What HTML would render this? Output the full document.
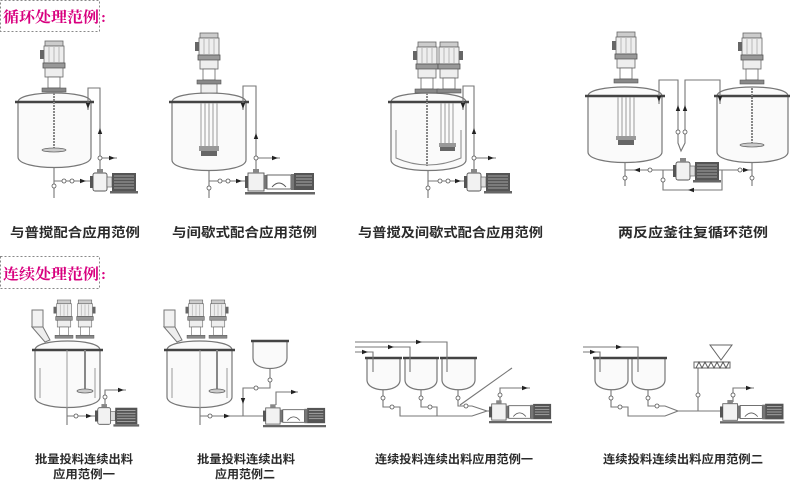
<!DOCTYPE html>
<html><head><meta charset="utf-8">
<style>
html,body{margin:0;padding:0;background:#fff;}
svg{display:block;}
.t{fill:#fafafa;stroke:#777;stroke-width:1.2;}
.p{fill:none;stroke:#777;stroke-width:1.1;}
.fl{stroke:#444;stroke-width:2.4;}
.cap{font-family:"Liberation Sans","Noto Sans CJK SC",sans-serif;font-weight:700;fill:#2a2a2a;}
.hd{font-family:"Liberation Serif","Noto Serif CJK SC",serif;font-weight:700;fill:#d8007f;font-size:15px;}
</style></head>
<body>
<svg width="790" height="484" viewBox="0 0 790 484" xmlns="http://www.w3.org/2000/svg">
<defs>
<g id="mv">
 <rect x="-9" y="0" width="18" height="5" fill="#ccc" stroke="#666" stroke-width=".8"/>
 <rect x="-10" y="5" width="20" height="17" fill="#eee" stroke="#666" stroke-width=".8"/>
 <line x1="-5" y1="6" x2="-5" y2="21" stroke="#aaa" stroke-width=".8"/>
 <line x1="0" y1="6" x2="0" y2="21" stroke="#aaa" stroke-width=".8"/>
 <line x1="5" y1="6" x2="5" y2="21" stroke="#aaa" stroke-width=".8"/>
 <rect x="-14" y="9" width="4" height="9" fill="#666"/>
 <rect x="-11" y="22" width="22" height="5" fill="#999" stroke="#555" stroke-width=".8"/>
 <rect x="-9" y="27" width="18" height="9" fill="#eee" stroke="#666" stroke-width=".8"/>
 <rect x="-6" y="36" width="12" height="11" fill="#fff" stroke="#666" stroke-width=".8"/>
 <rect x="-12" y="47" width="24" height="4" fill="#888" stroke="#555" stroke-width=".6"/>
</g>
<g id="ps">
 <rect x="0" y="-6" width="3" height="12" fill="#555"/>
 <rect x="3" y="-9" width="14" height="18" rx="2" fill="#f2f2f2" stroke="#555" stroke-width=".9"/>
 <rect x="7" y="-13" width="6" height="4" fill="#888"/>
 <rect x="17" y="-5" width="5" height="10" fill="#ddd" stroke="#555" stroke-width=".6"/>
 <rect x="22" y="-9" width="24" height="18" fill="#555"/>
 <g stroke="#bbb" stroke-width=".8">
  <line x1="24" y1="-6" x2="44" y2="-6"/><line x1="24" y1="-3" x2="44" y2="-3"/>
  <line x1="24" y1="0" x2="44" y2="0"/><line x1="24" y1="3" x2="44" y2="3"/>
  <line x1="24" y1="6" x2="44" y2="6"/>
 </g>
 <rect x="20" y="9" width="28" height="2.5" fill="#666"/>
</g>
<g id="pl">
 <rect x="0" y="-6" width="3" height="12" fill="#555"/>
 <rect x="3" y="-9" width="16" height="18" fill="#f2f2f2" stroke="#555" stroke-width=".9"/>
 <rect x="8" y="-13" width="6" height="4" fill="#888"/>
 <rect x="19" y="-7" width="3" height="14" fill="#777"/>
 <rect x="22" y="-7" width="24" height="14" fill="#fff" stroke="#555" stroke-width=".9"/>
 <path d="M27,5 Q34,-3 41,5" fill="none" stroke="#555" stroke-width=".9"/>
 <rect x="46" y="-8" width="3" height="16" fill="#777"/>
 <rect x="49" y="-9" width="20" height="17" fill="#555"/>
 <g stroke="#bbb" stroke-width=".8">
  <line x1="51" y1="-6" x2="67" y2="-6"/><line x1="51" y1="-3" x2="67" y2="-3"/>
  <line x1="51" y1="0" x2="67" y2="0"/><line x1="51" y1="3" x2="67" y2="3"/>
 </g>
 <rect x="0" y="10" width="70" height="2.5" fill="#666"/>
</g>
<polygon id="ar" points="-4,-2.2 2,0 -4,2.2" fill="#222"/>
<circle id="vv" r="2" fill="#fff" stroke="#555" stroke-width=".8"/>
</defs>

<!-- headers -->
<rect x="0.5" y="0.5" width="99" height="31" fill="none" stroke="#888" stroke-dasharray="2,2"/>
<text class="hd" x="3" y="22" textLength="96" lengthAdjust="spacingAndGlyphs">循环处理范例</text>
<text class="hd" x="101" y="22">:</text>
<rect x="0.5" y="256.5" width="99" height="32" fill="none" stroke="#888" stroke-dasharray="2,2"/>
<text class="hd" x="3" y="279" textLength="96" lengthAdjust="spacingAndGlyphs">连续处理范例</text>
<text class="hd" x="101" y="279">:</text>

<!-- Diagram A -->
<path class="t" d="M18,102 C18,90 91,90 91,102 V157 C91,171 18,171 18,157 Z"/>
<line class="fl" x1="15" y1="102" x2="94" y2="102"/>
<use href="#mv" x="54" y="41"/>
<line x1="54" y1="93" x2="54" y2="150" stroke="#888" stroke-width="2" stroke-dasharray="2,1"/>
<ellipse cx="54" cy="150" rx="12" ry="2" fill="#ccc" stroke="#666" stroke-width=".8"/>
<path class="p" d="M54,168 V198 M54,181 H90 M100,169 V88 H88 V110 M100,158 H117"/>
<use href="#vv" x="54" y="186"/><use href="#vv" x="64" y="181"/><use href="#vv" x="72" y="181"/>
<use href="#ar" transform="translate(84,181)"/><use href="#ar" transform="translate(113,158)"/>
<use href="#ar" transform="translate(88,107) rotate(90)"/><use href="#ar" transform="translate(100,130) rotate(-90)"/>
<use href="#vv" x="100" y="158"/>
<use href="#ps" x="90" y="182"/>

<!-- Diagram B -->
<path class="t" d="M172,102 C172,90 246,90 246,102 V160 C246,174 172,174 172,160 Z"/>
<line class="fl" x1="169" y1="102" x2="249" y2="102"/>
<use href="#mv" x="209" y="33"/>
<rect x="201" y="84" width="16" height="9" fill="#eee" stroke="#666" stroke-width=".8"/>
<g stroke="#999" stroke-width="1"><line x1="201" y1="103" x2="201" y2="146"/><line x1="205" y1="103" x2="205" y2="146"/><line x1="209" y1="103" x2="209" y2="146"/><line x1="213" y1="103" x2="213" y2="146"/><line x1="217" y1="103" x2="217" y2="146"/></g>
<rect x="199" y="146" width="20" height="5" fill="#999"/><rect x="201" y="151" width="16" height="5" fill="#666"/>
<path class="p" d="M209,171 V198 M209,181 H245 M256,171 V86 H243 V110 M256,158 H280"/>
<use href="#vv" x="209" y="188"/><use href="#vv" x="220" y="181"/><use href="#vv" x="228" y="181"/>
<use href="#ar" transform="translate(240,181)"/><use href="#ar" transform="translate(276,158)"/>
<use href="#ar" transform="translate(243,107) rotate(90)"/><use href="#ar" transform="translate(256,135) rotate(-90)"/>
<use href="#vv" x="256" y="158"/>
<use href="#pl" x="245" y="182"/>

<!-- Diagram C -->
<path class="t" d="M391,102 C391,90 466,90 466,102 V160 C466,174 391,174 391,160 Z"/>
<line class="fl" x1="388" y1="102" x2="469" y2="102"/>
<path d="M396,130 V158 Q428,172 461,158 V130" fill="none" stroke="#888" stroke-width="1"/>
<use href="#mv" x="427" y="42"/>
<use href="#mv" transform="translate(449,42) scale(-1,1)"/>
<line x1="427" y1="93" x2="427" y2="166" stroke="#888" stroke-width="2" stroke-dasharray="2,1"/>
<g stroke="#999" stroke-width="1"><line x1="441" y1="103" x2="441" y2="143"/><line x1="445" y1="103" x2="445" y2="143"/><line x1="449" y1="103" x2="449" y2="143"/><line x1="453" y1="103" x2="453" y2="143"/></g>
<rect x="439" y="143" width="17" height="4" fill="#999"/><rect x="440" y="147" width="15" height="4" fill="#666"/>
<path class="p" d="M428,171 V198 M428,181 H464 M474,169 V86 H463 V110 M474,158 H496"/>
<use href="#vv" x="428" y="188"/><use href="#vv" x="440" y="181"/><use href="#vv" x="448" y="181"/>
<use href="#ar" transform="translate(459,181)"/><use href="#ar" transform="translate(492,158)"/>
<use href="#ar" transform="translate(463,107) rotate(90)"/><use href="#ar" transform="translate(474,130) rotate(-90)"/>
<use href="#vv" x="474" y="158"/>
<use href="#ps" x="464" y="182"/>

<!-- Diagram D -->
<path class="t" d="M588,96 C588,84 662,84 662,96 V152 C662,166 588,166 588,152 Z"/>
<line class="fl" x1="585" y1="96" x2="665" y2="96"/>
<use href="#mv" x="626" y="32"/>
<g stroke="#999" stroke-width="1"><line x1="618" y1="97" x2="618" y2="136"/><line x1="622" y1="97" x2="622" y2="136"/><line x1="626" y1="97" x2="626" y2="136"/><line x1="630" y1="97" x2="630" y2="136"/><line x1="634" y1="97" x2="634" y2="136"/></g>
<rect x="616" y="136" width="20" height="4" fill="#999"/><rect x="618" y="140" width="16" height="5" fill="#666"/>
<path class="t" d="M717,96 C717,84 788,84 788,96 V152 C788,166 717,166 717,152 Z"/>
<line class="fl" x1="714" y1="96" x2="790" y2="96"/>
<use href="#mv" x="752" y="33"/>
<line x1="752" y1="88" x2="752" y2="145" stroke="#888" stroke-width="2" stroke-dasharray="2,1"/>
<ellipse cx="752" cy="145" rx="12" ry="2" fill="#ccc" stroke="#666" stroke-width=".8"/>
<path class="p" d="M659,104 V80 H678 V143 L681,151 L685,143 V80 H720 V104"/>
<use href="#ar" transform="translate(659,100) rotate(90)"/><use href="#ar" transform="translate(720,100) rotate(90)"/>
<use href="#ar" transform="translate(678,107) rotate(-90)"/><use href="#ar" transform="translate(685,107) rotate(-90)"/>
<use href="#vv" x="678" y="132"/><use href="#vv" x="685" y="132"/>
<path class="p" d="M625,163 V186 M625,170 H673 M752,163 V186 M719,170 H752 M663,170 V190 H722 V170"/>
<use href="#vv" x="625" y="178"/><use href="#vv" x="752" y="178"/><use href="#vv" x="650" y="170"/><use href="#vv" x="740" y="170"/>
<use href="#ar" transform="translate(636,170) rotate(180)"/><use href="#ar" transform="translate(747,170)"/>
<use href="#ar" transform="translate(690,190) rotate(180)"/>
<use href="#vv" x="663" y="180"/>
<use href="#ps" x="673" y="171"/>

<!-- Diagram E -->
<path class="t" d="M35,350 C35,338 100,338 100,350 V397 C100,411 35,411 35,397 Z"/>
<line class="fl" x1="32" y1="350" x2="103" y2="350"/>
<rect x="32" y="310" width="11" height="17" fill="#f2f2f2" stroke="#777" stroke-width="1"/>
<path d="M32,327 H43 L50,340 L45,342 Z" fill="#eee" stroke="#777" stroke-width="1"/>
<use href="#mv" transform="translate(64,300) scale(0.75)"/>
<use href="#mv" transform="translate(85,300) scale(-0.75,0.75)"/>
<g stroke="#999" stroke-width="1"><line x1="40" y1="368" x2="40" y2="398"/><line x1="95" y1="368" x2="95" y2="398"/><line x1="67" y1="350" x2="67" y2="408"/></g>
<line x1="85" y1="350" x2="85" y2="390" stroke="#888" stroke-width="2"/>
<ellipse cx="85" cy="391" rx="8" ry="2" fill="#ccc" stroke="#666" stroke-width=".8"/>
<path class="p" d="M67,408 V425 M67,416 H95 M105,404 V390 H126"/>
<use href="#vv" x="76" y="416"/><use href="#ar" transform="translate(90,416)"/><use href="#ar" transform="translate(122,390)"/>
<use href="#vv" x="105" y="397"/>
<use href="#ps" transform="translate(95,416) scale(0.92)"/>

<!-- Diagram F -->
<path class="t" d="M167,350 C167,338 232,338 232,350 V397 C232,411 167,411 167,397 Z"/>
<line class="fl" x1="164" y1="350" x2="235" y2="350"/>
<rect x="164" y="310" width="11" height="17" fill="#f2f2f2" stroke="#777" stroke-width="1"/>
<path d="M164,327 H175 L182,340 L177,342 Z" fill="#eee" stroke="#777" stroke-width="1"/>
<use href="#mv" transform="translate(196,300) scale(0.75)"/>
<use href="#mv" transform="translate(218,300) scale(-0.75,0.75)"/>
<g stroke="#999" stroke-width="1"><line x1="172" y1="368" x2="172" y2="398"/><line x1="227" y1="368" x2="227" y2="398"/><line x1="200" y1="350" x2="200" y2="408"/></g>
<line x1="217" y1="350" x2="217" y2="390" stroke="#888" stroke-width="2"/>
<ellipse cx="217" cy="391" rx="8" ry="2" fill="#ccc" stroke="#666" stroke-width=".8"/>
<path class="t" d="M253,341 V358 C253,372 287,372 287,358 V341"/>
<line class="fl" x1="251" y1="341" x2="289" y2="341"/>
<path class="p" d="M270,368 V388 H243 V416 M200,408 V425 M200,416 H264 M276,405 V392 H298"/>
<use href="#vv" x="270" y="380"/><use href="#vv" x="256" y="388"/><use href="#ar" transform="translate(243,402) rotate(90)"/>
<use href="#ar" transform="translate(228,416)"/><use href="#vv" x="210" y="416"/><use href="#ar" transform="translate(295,392)"/>
<use href="#pl" transform="translate(263,416) scale(0.9)"/>

<!-- Diagram G -->
<path class="t" d="M367,358 V380 C367,393 400,393 400,380 V358"/>
<line class="fl" x1="365" y1="358" x2="402" y2="358"/>
<path class="t" d="M405,358 V380 C405,393 437,393 437,380 V358"/>
<line class="fl" x1="403" y1="358" x2="439" y2="358"/>
<path class="t" d="M442,358 V380 C442,393 475,393 475,380 V358"/>
<line class="fl" x1="440" y1="358" x2="477" y2="358"/>
<path class="p" d="M355,342 H447 V372 M355,347 H410 V372 M355,352 H373 V372"/>
<use href="#ar" transform="translate(420,342)"/><use href="#ar" transform="translate(392,347)"/><use href="#ar" transform="translate(366,352)"/>
<path class="p" d="M383,390 V407 H400 V416 H472 L487,411 L472,406 H458 V390 M421,390 V407 H437 V416 M487,411 H491 M512,368 L460,405 M500,402 V388 H530"/>
<use href="#vv" x="383" y="398"/><use href="#vv" x="421" y="398"/><use href="#vv" x="458" y="398"/>
<use href="#vv" x="392" y="407"/><use href="#vv" x="430" y="407"/><use href="#vv" x="466" y="406"/>
<use href="#ar" transform="translate(526,388)"/><use href="#vv" x="500" y="395"/>
<use href="#pl" transform="translate(489,412) scale(0.9)"/>

<!-- Diagram H -->
<path class="t" d="M595,358 V380 C595,393 628,393 628,380 V358"/>
<line class="fl" x1="593" y1="358" x2="630" y2="358"/>
<path class="t" d="M632,358 V380 C632,393 665,393 665,380 V358"/>
<line class="fl" x1="630" y1="358" x2="667" y2="358"/>
<path class="p" d="M583,347 H638 V372 M583,352 H600 V372"/>
<use href="#ar" transform="translate(620,347)"/><use href="#ar" transform="translate(594,352)"/>
<path class="p" d="M611,390 V407 H628 V416 H665 L678,411 L665,406 H648 V390 M678,411 H722 M698,368 V411 M733,402 V388 H754"/>
<use href="#vv" x="611" y="398"/><use href="#vv" x="648" y="398"/><use href="#vv" x="620" y="407"/><use href="#vv" x="657" y="406"/>
<use href="#vv" x="698" y="395"/><use href="#vv" x="733" y="395"/><use href="#ar" transform="translate(750,388)"/>
<polygon points="710,345 732,345 721,360" fill="#fff" stroke="#666" stroke-width="1"/>
<rect x="694" y="362" width="36" height="6" fill="#fff" stroke="#666" stroke-width="1"/>
<path d="M696,368 L699,362 L702,368 L705,362 L708,368 L711,362 L714,368 L717,362 L720,368 L723,362 L726,368 L729,362" fill="none" stroke="#555" stroke-width=".9"/>
<use href="#pl" transform="translate(720,412) scale(0.92)"/>

<!-- captions -->
<g class="cap" font-size="13">
<text x="10" y="237" textLength="130" lengthAdjust="spacingAndGlyphs">与普搅配合应用范例</text>
<text x="172" y="237" textLength="145" lengthAdjust="spacingAndGlyphs">与间歇式配合应用范例</text>
<text x="358" y="237" textLength="185" lengthAdjust="spacingAndGlyphs">与普搅及间歇式配合应用范例</text>
<text x="618" y="237" textLength="150" lengthAdjust="spacingAndGlyphs">两反应釜往复循环范例</text>
</g>
<g class="cap" font-size="11.5">
<text x="35" y="463" textLength="98" lengthAdjust="spacingAndGlyphs">批量投料连续出料</text>
<text x="53" y="478" textLength="62" lengthAdjust="spacingAndGlyphs">应用范例一</text>
<text x="197" y="463" textLength="98" lengthAdjust="spacingAndGlyphs">批量投料连续出料</text>
<text x="215" y="478" textLength="60" lengthAdjust="spacingAndGlyphs">应用范例二</text>
<text x="375" y="463" textLength="158" lengthAdjust="spacingAndGlyphs">连续投料连续出料应用范例一</text>
<text x="603" y="463" textLength="160" lengthAdjust="spacingAndGlyphs">连续投料连续出料应用范例二</text>
</g>
</svg>
</body></html>
